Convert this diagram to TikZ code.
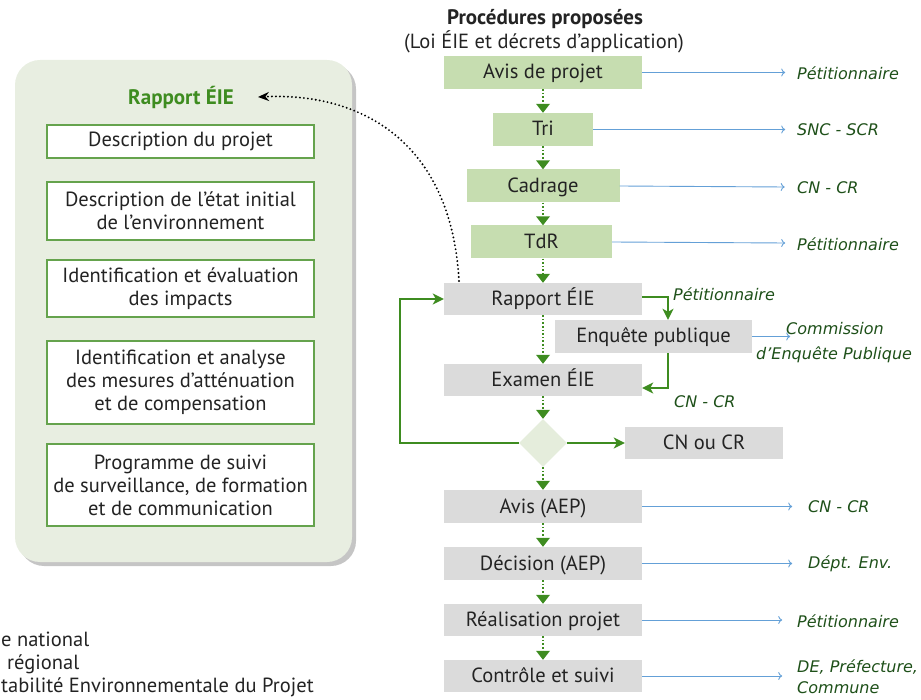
\documentclass[tikz,border=0pt]{standalone}
\usepackage{fontspec}
\setmainfont{PT Sans}
\newfontfamily\labfont{DejaVu Sans}
\usetikzlibrary{arrows.meta,shapes.geometric,shadows}
\definecolor{gfill}{RGB}{198,221,176}
\definecolor{grayfill}{RGB}{219,219,219}
\definecolor{panelfill}{RGB}{232,238,225}
\definecolor{diafill}{RGB}{229,237,220}
\definecolor{gline}{RGB}{62,140,32}
\definecolor{bline}{RGB}{100,160,215}
\definecolor{txt}{RGB}{35,35,35}
\definecolor{labc}{RGB}{30,80,25}
\tikzset{
  base/.style={inner sep=0pt, font=\fontsize{20.5}{23}\selectfont, text=txt},
  gbox/.style={base, fill=gfill, minimum height=33pt, text height=16pt, text depth=3pt},
  graybox/.style={base, fill=grayfill, minimum height=33pt, text height=16pt, text depth=3pt},
  wbox/.style={base, fill=white, draw=gline!80, line width=1.2pt, minimum width=267pt, align=center, font=\fontsize{20.5}{23}\selectfont},
  flow/.style={gline, dotted, line width=1.6pt, -{Triangle[width=14pt,length=9pt,line width=0pt]}},
  garrow/.style={gline, line width=2pt, -{Stealth[length=11pt,width=11pt,inset=3pt]}},
  barrow/.style={bline, line width=0.9pt, -{To[length=4pt,width=8pt]}},
  lab/.style={inner sep=0pt, anchor=west, text=labc, font=\labfont\itshape\fontsize{16}{21}\selectfont},
}
\begin{document}
\begin{tikzpicture}[x=1pt,y=-1pt]
\useasboundingbox (0,0) rectangle (921,700);
% left panel
\node[draw=none, fill=panelfill, rounded corners=25pt, minimum width=337pt, minimum height=502pt, inner sep=0pt,
  drop shadow={shadow xshift=4pt, shadow yshift=-4pt, fill=gray!75, opacity=0.6}] (panel) at (183.5,311) {};
\node[inner sep=0pt, font=\bfseries\fontsize{21}{23}\selectfont, text=gline] (ptitle) at (181,97) {Rapport ÉIE};
\node[wbox, minimum height=33pt] (w1) at (180.5,141.5) {Description du projet};
\node[wbox, minimum height=58pt] (w2) at (180.5,211) {Description de l'état initial\\de l'environnement};
\node[wbox, minimum height=57pt] (w3) at (180.5,288.5) {Identification et évaluation\\des impacts};
\node[wbox, minimum height=83pt] (w4) at (180.5,382.5) {Identification et analyse\\des mesures d'atténuation\\et de compensation};
\node[wbox, minimum height=82pt] (w5) at (180.5,485) {Programme de suivi\\de surveillance, de formation\\et de communication};
% legend (as visible at the left edge)
\node[base, anchor=base west] (l1) at (1,646) {e national};
\node[base, anchor=base west] (l2) at (7,669) {régional};
\node[base, anchor=base west] (l3) at (1,692) {tabilité Environnementale du Projet};
% titles
\node[base, font=\bfseries\fontsize{21}{23}\selectfont] (t1) at (545,19) {Procédures proposées};
\node[base] (t2) at (544,42) {(Loi ÉIE et décrets d'application)};
% flow boxes
\node[gbox, minimum width=198pt] (avis) at (543,72.5) {Avis de projet};
\node[gbox, minimum width=100pt] (tri) at (543,129.5) {Tri};
\node[gbox, minimum width=153pt] (cad) at (543,186) {Cadrage};
\node[gbox, minimum width=141pt] (tdr) at (541.5,242) {TdR};
\node[graybox, minimum width=198pt, minimum height=32pt] (rap) at (543,299) {Rapport ÉIE};
\node[graybox, minimum width=197pt] (enq) at (653.5,336.5) {Enquête publique};
\node[graybox, minimum width=198pt, minimum height=32pt] (exa) at (543,380) {Examen ÉIE};
\node[diamond, fill=diafill, minimum width=48pt, minimum height=48pt, inner sep=0pt] (dia) at (543,443) {};
\node[graybox, minimum width=158pt, minimum height=32pt] (cnc) at (704,443) {CN ou CR};
\node[graybox, minimum width=198pt] (aep) at (543,506.5) {Avis (AEP)};
\node[graybox, minimum width=198pt] (dec) at (543,563.5) {Décision (AEP)};
\node[graybox, minimum width=198pt, minimum height=32pt] (rea) at (543,620) {Réalisation projet};
\node[graybox, minimum width=198pt, minimum height=32pt] (con) at (543,676) {Contrôle et suivi};
% vertical flow
\draw[flow] (avis.south) -- (tri.north);
\draw[flow] (tri.south) -- (cad.north);
\draw[flow] (cad.south) -- (cad.south |- tdr.north);
\draw[flow] (cad.south |- tdr.south) -- (rap.north);
\draw[flow] (rap.south) -- (exa.north);
\draw[flow] (exa.south) -- (dia.north);
\draw[flow] (dia.south) -- (aep.north);
\draw[flow] (aep.south) -- (dec.north);
\draw[flow] (dec.south) -- (rea.north);
\draw[flow] (rea.south) -- (con.north);
% green solid arrows
\coordinate (c1) at (668,297);
\draw[garrow] (rap.east |- c1) -- (c1) -- (c1 |- enq.north);
\coordinate (c2) at (668,388);
\draw[garrow] (c2 |- enq.south) -- (c2) -- (exa.east |- c2);
\draw[garrow] (dia.east) -- (cnc.west);
\coordinate (c3) at (400,443);
\draw[garrow] (dia.west) -- (c3) -- (400,299) -- (rap.west);
\node[lab] (lp) at (673,294) {Pétitionnaire};
\node[lab] (lc) at (674,402) {CN - CR};
% blue arrows and labels
\node[lab] (r1) at (797,73) {Pétitionnaire};
\node[lab] (r2) at (797,130) {SNC - SCR};
\node[lab] (r3) at (797,188) {CN - CR};
\node[lab] (r4) at (797,244) {Pétitionnaire};
\node[lab] (r5) at (808,507) {CN - CR};
\node[lab] (r6) at (808,564) {Dépt. Env.};
\node[lab] (r7) at (797,621) {Pétitionnaire};
\node[lab, align=left] (r8) at (797,677) {DE, Préfecture,\\Commune};
\node[lab, anchor=west] (r9) at (786,329) {Commission};
\node[lab, anchor=west] (r10) at (756,355) {d’Enquête Publique};
\draw[barrow] (avis.east) -- ++(143,0);
\draw[barrow] (tri.east) -- ++(192,0);
\draw[barrow] (cad.east) -- ++(165,1);
\draw[barrow] (tdr.east) -- ++(173,1);
\draw[barrow] (aep.east) -- ++(150,0);
\draw[barrow] (dec.east) -- ++(150,0);
\draw[barrow] (rea.east) -- ++(140,0);
\draw[barrow] (con.east) -- ++(140,0);
\draw[barrow] (enq.east) -- ++(38,0);
% dotted curved arrow
\coordinate (cs) at (459,281);
\draw[black, line width=2.1pt, dash pattern=on 0pt off 4pt, line cap=round, -{Stealth[length=11pt,width=9pt,line cap=butt]}]
  (cs) .. controls (452,150) and (370,92) .. ([xshift=24pt]ptitle.east);
\end{tikzpicture}
\end{document}
